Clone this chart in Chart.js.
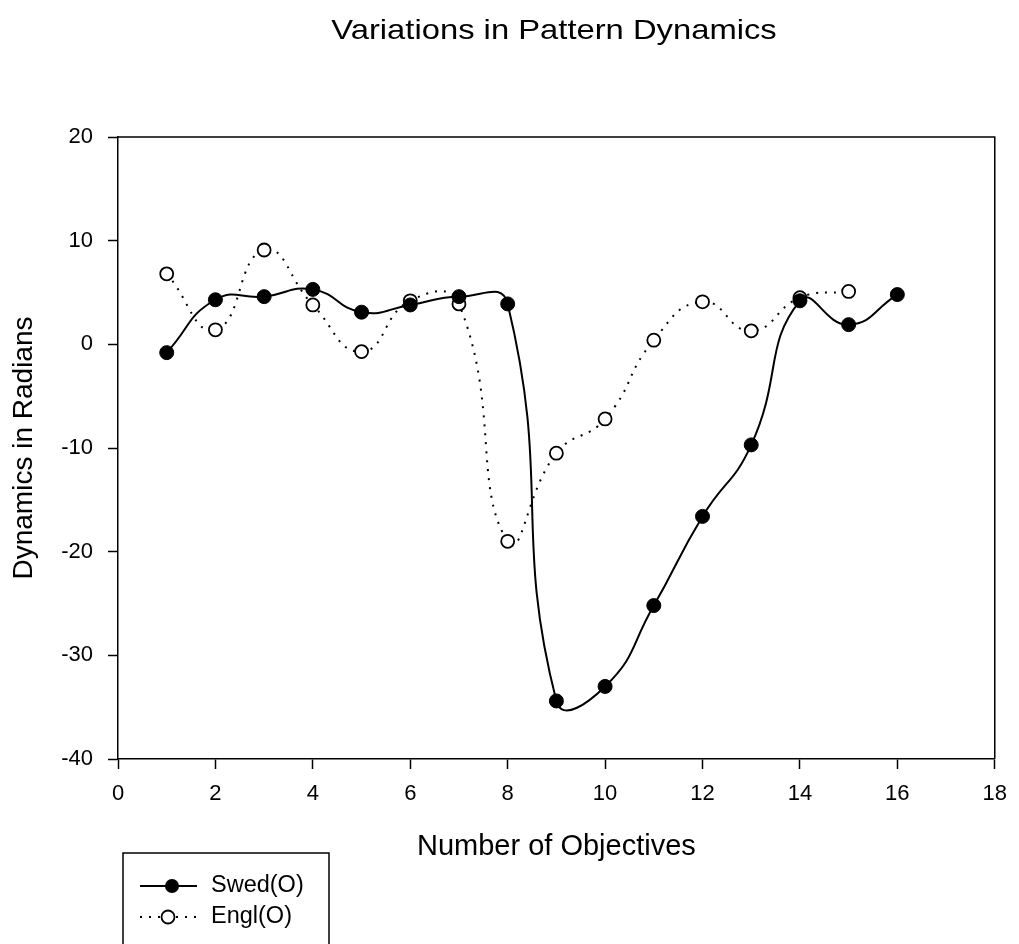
<!DOCTYPE html>
<html>
<head>
<meta charset="utf-8">
<title>Variations in Pattern Dynamics</title>
<script src="https://cdn.jsdelivr.net/npm/chart.js@4/dist/chart.umd.min.js"></script>
<style>
    html, body { margin: 0; padding: 0; background: #ffffff; }
    #wrap { position: relative; width: 1019px; height: 944px; }
</style>
</head>
<body>
<div id="wrap"><canvas id="dynamicsChart" width="1019" height="944"></canvas></div>
<script>
// ========================================================================
// 데이터
// ========================================================================
const chartTitle = 'Variations in Pattern Dynamics';
const xAxisTitle = 'Number of Objectives';
const yAxisTitle = 'Dynamics in Radians';

const objectives = [1, 2, 3, 4, 5, 6, 7, 8, 9, 10, 11, 12, 13, 14, 15, 16];
const swedValues = [-0.8, 4.3, 4.6, 5.3, 3.1, 3.8, 4.6, 3.9, -34.4, -33.0, -25.2, -16.6, -9.7, 4.2, 1.9, 4.8];
const englValues = [6.8, 1.4, 9.1, 3.8, -0.7, 4.2, 3.9, -19.0, -10.5, -7.2, 0.4, 4.1, 1.3, 4.5, 5.1];

const seriesNames = ['Swed(O)', 'Engl(O)'];

const xTicks = { min: 0, max: 18, step: 2 };
const yTicks = { min: -40, max: 20, step: 10 };

const FONT = '"Liberation Sans", Arial, Helvetica, sans-serif';

// ========================================================================
// 유틸리티
// ========================================================================

/**
 * x 값과 y 값을 {x, y} 배열로 묶기
 */
function toPoints(xs, ys) {
    return ys.map((v, i) => ({ x: xs[i], y: v }));
}

// ========================================================================
// 플러그인: 제목, 테두리, 범례
// ========================================================================
const framePlugin = {
    id: 'framePlugin',
    afterDraw(chart) {
        const ctx = chart.ctx;
        const area = chart.chartArea;
        ctx.save();

        // 위쪽/오른쪽 테두리
        ctx.strokeStyle = '#000';
        ctx.lineWidth = 1.5;
        ctx.beginPath();
        ctx.moveTo(area.left, area.top);
        ctx.lineTo(area.right, area.top);
        ctx.lineTo(area.right, area.bottom);
        ctx.stroke();

        // 제목 (원본 글꼴이 옆으로 넓어서 가로로 늘림)
        ctx.save();
        ctx.fillStyle = '#000';
        ctx.font = '28px ' + FONT;
        ctx.textAlign = 'center';
        ctx.textBaseline = 'middle';
        ctx.translate(554, 31);
        ctx.scale(1.17, 1);
        ctx.fillText(chartTitle, 0, 0);
        ctx.restore();

        // 범례 박스
        ctx.lineWidth = 1.5;
        ctx.strokeRect(123, 853, 206, 100);

        const ds = chart.data.datasets;
        ctx.fillStyle = '#000';
        ctx.font = '23.5px ' + FONT;
        ctx.textAlign = 'left';
        ctx.textBaseline = 'middle';

        // Swed(O): 실선 + 채운 원
        ctx.lineWidth = 2;
        ctx.setLineDash([]);
        ctx.beginPath();
        ctx.moveTo(140, 886);
        ctx.lineTo(197, 886);
        ctx.stroke();
        ctx.beginPath();
        ctx.arc(172, 886, 7, 0, Math.PI * 2);
        ctx.fill();
        ctx.fillText(ds[0].label, 211, 886);

        // Engl(O): 점선 + 빈 원
        ctx.setLineDash([2, 7]);
        ctx.beginPath();
        ctx.moveTo(140, 917);
        ctx.lineTo(197, 917);
        ctx.stroke();
        ctx.setLineDash([]);
        ctx.fillStyle = '#fff';
        ctx.beginPath();
        ctx.arc(168, 917, 6.5, 0, Math.PI * 2);
        ctx.fill();
        ctx.lineWidth = 1.8;
        ctx.stroke();
        ctx.fillStyle = '#000';
        ctx.fillText(ds[1].label, 211, 917);

        ctx.restore();
    }
};

// ========================================================================
// 차트 초기화
// ========================================================================
function initDynamicsChart() {
    const ctx = document.getElementById('dynamicsChart');

    return new Chart(ctx, {
        type: 'line',
        data: {
            datasets: [
                {
                    label: seriesNames[0],
                    data: toPoints(objectives, swedValues),
                    borderColor: '#000',
                    borderWidth: 2,
                    tension: 0.5,
                    fill: false,
                    pointRadius: 7,
                    pointBackgroundColor: '#000',
                    pointBorderColor: '#000',
                    pointBorderWidth: 1
                },
                {
                    label: seriesNames[1],
                    data: toPoints(objectives, englValues),
                    borderColor: '#000',
                    borderWidth: 2,
                    borderDash: [2, 7],
                    tension: 0.5,
                    fill: false,
                    pointRadius: 6.5,
                    pointBackgroundColor: '#fff',
                    pointBorderColor: '#000',
                    pointBorderWidth: 1.8
                }
            ]
        },
        options: {
            responsive: false,
            animation: false,
            devicePixelRatio: 1,
            layout: { padding: { top: 137, left: 0, right: 21, bottom: 0 } },
            plugins: {
                legend: { display: false },
                title: { display: false },
                tooltip: { enabled: false }
            },
            scales: {
                x: {
                    type: 'linear',
                    min: xTicks.min,
                    max: xTicks.max,
                    afterFit(scale) { scale.height = 185; },
                    ticks: {
                        stepSize: xTicks.step,
                        color: '#000',
                        padding: 12,
                        font: { family: FONT, size: 22 }
                    },
                    grid: {
                        drawOnChartArea: false,
                        drawTicks: true,
                        tickLength: 10,
                        tickWidth: 1.5,
                        tickColor: '#000'
                    },
                    border: { display: true, color: '#000', width: 1.5 },
                    title: {
                        display: true,
                        text: xAxisTitle,
                        color: '#000',
                        font: { family: FONT, size: 29 },
                        padding: { top: 0, bottom: 80 }
                    }
                },
                y: {
                    type: 'linear',
                    min: yTicks.min,
                    max: yTicks.max,
                    afterFit(scale) { scale.width = 118; },
                    ticks: {
                        stepSize: yTicks.step,
                        color: '#000',
                        padding: 15,
                        font: { family: FONT, size: 22 }
                    },
                    grid: {
                        drawOnChartArea: false,
                        drawTicks: true,
                        tickLength: 10,
                        tickWidth: 1.5,
                        tickColor: '#000'
                    },
                    border: { display: true, color: '#000', width: 1.5 },
                    title: {
                        display: true,
                        text: yAxisTitle,
                        color: '#000',
                        font: { family: FONT, size: 28 },
                        padding: { top: 7, bottom: 0 }
                    }
                }
            }
        },
        plugins: [framePlugin]
    });
}

initDynamicsChart();
</script>
</body>
</html>
